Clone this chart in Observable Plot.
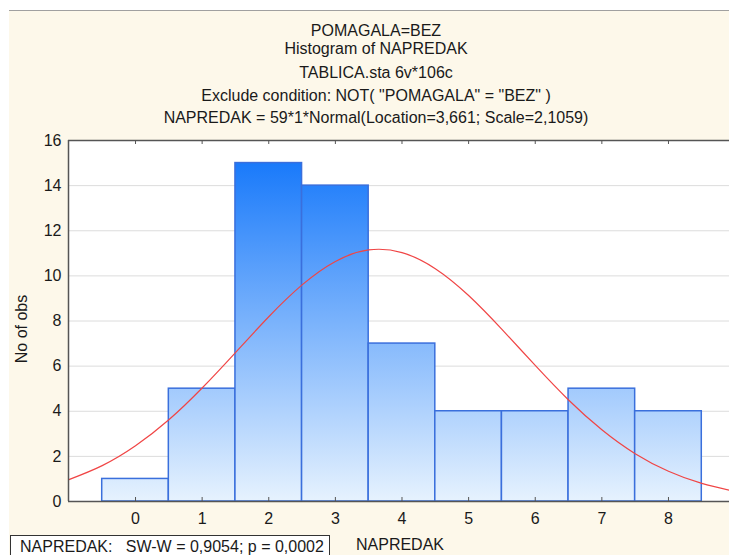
<!DOCTYPE html>
<html><head><meta charset="utf-8">
<script src="https://cdn.jsdelivr.net/npm/d3@7"></script>
<script src="https://cdn.jsdelivr.net/npm/@observablehq/plot@0.6"></script>
<style>
html,body{margin:0;padding:0;background:#fff;overflow:hidden;width:729px;height:555px}
#bg{position:absolute;left:9px;top:10px;width:720px;height:545px;background:#fdf8ea;border-top:1px solid #a0a0a0}
#chart{position:absolute;left:0;top:0;width:729px;height:555px;overflow:hidden}
.t{position:absolute;left:23px;width:706px;text-align:center;font:16px "Liberation Sans",Arial,sans-serif;color:#1a1a1a;transform:translateY(-50%);white-space:pre}
#ylab{position:absolute;left:22px;top:329px;transform:translate(-50%,-50%) rotate(-90deg);font:16px "Liberation Sans",Arial,sans-serif;color:#1a1a1a;white-space:nowrap}
#xlab{position:absolute;left:400px;top:545px;transform:translate(-50%,-50%);font:16px "Liberation Sans",Arial,sans-serif;color:#1a1a1a}
#box{position:absolute;left:10px;top:535px;width:320px;height:20px;background:#fff;border:1px solid #333;border-bottom:none;font:16px "Liberation Sans",Arial,sans-serif;color:#1a1a1a;white-space:pre;padding-left:9px;line-height:22px;box-sizing:border-box;overflow:hidden}
</style></head>
<body>
<div id="bg"></div>
<div id="chart"></div>
<div class="t" style="top:31px">POMAGALA=BEZ</div>
<div class="t" style="top:49px">Histogram of NAPREDAK</div>
<div class="t" style="top:73px">TABLICA.sta 6v*106c</div>
<div class="t" style="top:96px">Exclude condition: NOT( "POMAGALA" = "BEZ" )</div>
<div class="t" style="top:118px">NAPREDAK = 59*1*Normal(Location=3,661; Scale=2,1059)</div>
<div id="ylab">No of obs</div>
<div id="xlab">NAPREDAK</div>
<div id="box">NAPREDAK:   SW-W = 0,9054; p = 0,0002</div>
<script>
// Data
const categories = [0, 1, 2, 3, 4, 5, 6, 7, 8];
const counts = [1, 5, 15, 14, 7, 4, 4, 5, 4];
const xTicks = [0, 1, 2, 3, 4, 5, 6, 7, 8];
const yTicks = [0, 2, 4, 6, 8, 10, 12, 14, 16];
const curveX = [-1, -0.5, 0, 0.5, 1, 1.5, 2, 2.5, 3, 3.5, 4, 4.5, 5, 5.5, 6, 6.5, 7, 7.5, 8, 8.5, 9];
const curveY = [0.97, 1.59, 2.47, 3.62, 5.03, 6.6, 8.19, 9.6, 10.64, 11.15, 11.03, 10.32, 9.13, 7.63, 6.03, 4.5, 3.18, 2.12, 1.34, 0.8, 0.45];

const bins = categories.map((c, i) => ({x1: c - 0.5, x2: c + 0.5, n: counts[i]}));
const curve = curveX.map((x, i) => ({x, y: curveY[i]}));
const xDomain = [-1.006, 8.916];
const tickLen = 16 * 4 / 361;

const chart = Plot.plot({
  width: 729, height: 555,
  marginLeft: 68, marginRight: 0, marginTop: 140, marginBottom: 54,
  style: {background: "transparent", fontFamily: "'Liberation Sans', Arial, sans-serif", fontSize: "16px", color: "#1a1a1a", overflow: "hidden"},
  x: {domain: xDomain},
  y: {domain: [0, 16]},
  marks: [
    Plot.frame({fill: "white", stroke: null}),
    Plot.gridY(yTicks.filter(d => d > 0 && d < 16), {stroke: "#dcdcdc", strokeOpacity: 1}),
    Plot.rect(bins, {x1: "x1", x2: "x2", y1: 0, y2: "n", fill: "url(#barGrad)", stroke: "#3a6fdc", strokeWidth: 1.5}),
    Plot.line(curve, {x: "x", y: "y", stroke: "#f04545", strokeWidth: 1.2, curve: "natural", clip: true}),
    Plot.ruleY([0, 16], {stroke: "#555", strokeWidth: 1.5}),
    Plot.ruleX([xDomain[0]], {stroke: "#555", strokeWidth: 1.5}),
    Plot.ruleX(xTicks, {x: d => d, y1: 0, y2: tickLen, stroke: "#555"}),
    Plot.ruleX(xTicks, {x: d => d, y1: 16, y2: 16 - tickLen, stroke: "#555"}),
    Plot.axisX(xTicks, {tickSize: 0, tickPadding: 11, label: null}),
    Plot.axisY(yTicks, {tickSize: 0, tickPadding: 7, label: null})
  ]
});

const ys = chart.scale("y");
const defs = d3.select(chart).insert("defs", ":first-child");
const g = defs.append("linearGradient").attr("id", "barGrad")
  .attr("gradientUnits", "userSpaceOnUse")
  .attr("x1", 0).attr("x2", 0)
  .attr("y1", ys.apply(16)).attr("y2", ys.apply(0));
g.append("stop").attr("offset", "0%").attr("stop-color", "#0c72fa");
g.append("stop").attr("offset", "100%").attr("stop-color", "#e6f2fe");

document.getElementById("chart").appendChild(chart);
</script>
</body></html>
